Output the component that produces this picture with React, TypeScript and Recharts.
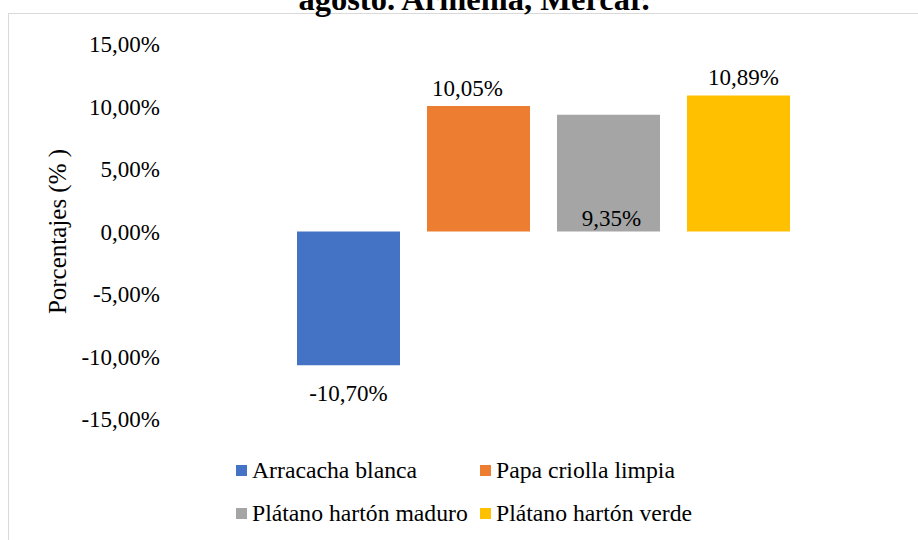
import React from 'react';
import { BarChart, Bar, XAxis, YAxis, LabelList } from 'recharts';

const seriesNames = ['Arracacha blanca', 'Papa criolla limpia', 'Plátano hartón maduro', 'Plátano hartón verde'];
const seriesKeys = ['arracacha', 'papa', 'maduro', 'verde'];
const seriesValues = [-10.7, 10.05, 9.35, 10.89];
const seriesColors = ['#4472C4', '#ED7D31', '#A5A5A5', '#FFC000'];
const yTicks = [-15, -10, -5, 0, 5, 10, 15];
const labelModes = ['below', 'above', 'insideBase', 'above'];
const labelShiftX = [0, -11, 3, 5];

const row: Record<string, any> = { name: '' };
seriesKeys.forEach((k, i) => {
  row[k] = seriesValues[i];
});
const data = [row];

const FONT = '"Liberation Serif", "Times New Roman", Times, serif';
const fmt = (v: number) => v.toFixed(2).replace('.', ',') + '%';

const makeLabel = (mode: string, dx: number) => (props: any) => {
  const { x, y, width, height, value } = props;
  const top = Math.min(y, y + height);
  const bottom = Math.max(y, y + height);
  const cx = x + width / 2 + dx;
  let ty = top - 10;
  if (mode === 'below') ty = bottom + 36;
  if (mode === 'insideBase') ty = bottom - 6;
  return (
    <text x={cx} y={ty} textAnchor="middle" style={{ fontFamily: FONT }} fontSize={23} fill="#000">
      {fmt(Number(value))}
    </text>
  );
};

const LegendBox = () => (
  <div
    style={{
      position: 'absolute',
      left: 236,
      top: 455,
      display: 'grid',
      gridTemplateColumns: '244px 240px',
      rowGap: 13,
      fontFamily: FONT,
      fontSize: 23.7,
      color: '#000',
    }}
  >
    {seriesNames.map((n, i) => (
      <div key={n} style={{ display: 'flex', alignItems: 'center', height: 30, whiteSpace: 'nowrap' }}>
        <span style={{ width: 11, height: 11, background: seriesColors[i], display: 'inline-block', marginRight: 5 }} />
        <span>{n}</span>
      </div>
    ))}
  </div>
);

export default function App() {
  return (
    <div style={{ position: 'absolute', left: 0, top: 0, width: 918, height: 540, background: '#fff', overflow: 'hidden', fontFamily: FONT }}>
      <div
        style={{
          position: 'absolute',
          left: 8,
          top: 13,
          width: 940,
          height: 560,
          border: '1px solid #D9D9D9',
          boxSizing: 'border-box',
        }}
      />
      <div
        style={{
          position: 'absolute',
          left: 0,
          width: 948,
          top: -19,
          textAlign: 'center',
          fontFamily: FONT,
          fontWeight: 'bold',
          fontSize: 32.5,
          lineHeight: '36px',
          whiteSpace: 'nowrap',
        }}
      >
        agosto. Armenia, Mercar.
      </div>
      <div style={{ position: 'absolute', left: 0, top: 0 }}>
        <BarChart width={918} height={540} data={data} margin={{ top: 44, right: 0, bottom: 121, left: 0 }} barSize={103} barGap={27}>
          <XAxis dataKey="name" hide />
          <YAxis
            width={168}
            domain={[-15, 15]}
            ticks={yTicks}
            interval={0}
            axisLine={false}
            tickLine={false}
            tickFormatter={(v: number) => fmt(v)}
            tick={{ fontSize: 23, fill: '#000', style: { fontFamily: FONT } }}
            label={(p: any) => {
              const vb = p.viewBox || {};
              const cy = (vb.y ?? 44) + (vb.height ?? 375) / 2;
              return (
                <text
                  x={57}
                  y={cy}
                  transform={`rotate(-90, 57, ${cy})`}
                  textAnchor="middle"
                  dominantBaseline="central"
                  style={{ fontFamily: FONT, whiteSpace: 'pre' }}
                  fontSize={25}
                  fill="#000"
                >
                  Porcentajes (% )
                </text>
              );
            }}
          />
          {seriesKeys.map((k, i) => (
            <Bar key={k} dataKey={k} name={seriesNames[i]} fill={seriesColors[i]} isAnimationActive={false}>
              <LabelList dataKey={k} content={makeLabel(labelModes[i], labelShiftX[i])} />
            </Bar>
          ))}
        </BarChart>
      </div>
      <LegendBox />
    </div>
  );
}
